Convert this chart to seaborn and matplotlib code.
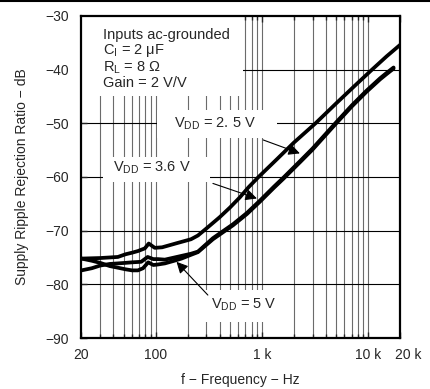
import numpy as np
import pandas as pd
import matplotlib
matplotlib.use("Agg")
import matplotlib.pyplot as plt
import matplotlib.transforms as mtransforms
from matplotlib.lines import Line2D
from matplotlib.patches import Rectangle
from matplotlib.ticker import NullFormatter
import seaborn as sns

# ------------------------------------------------------------------
# DATOS
# ------------------------------------------------------------------
freq_25 = [20, 30, 44, 52, 60, 68, 79, 86, 98, 115, 160, 215, 250, 300, 400,
           500, 620, 750, 930, 1400, 2000, 3200, 5000, 7500, 10900, 15000, 20000]
srr_25 = [-75.2, -75.1, -74.9, -74.4, -74.1, -73.8, -73.3, -72.4, -73.2, -73.1,
          -72.3, -71.6, -70.9, -69.6, -67.5, -65.7, -63.8, -61.9, -60.0, -56.6,
          -53.6, -50.0, -46.3, -43.0, -40.0, -37.5, -35.4]

freq_36 = [20, 25, 30, 37, 44, 52, 60, 73, 84, 95, 105, 122, 150, 175, 215, 250,
           346, 430, 535, 723, 959, 1300, 1600, 2300, 3000, 4860, 7000, 9700,
           13000, 15000, 17400]
srr_36 = [-77.4, -77.0, -76.5, -76.2, -76.1, -76.0, -75.9, -75.8, -74.9, -75.3,
          -75.3, -75.4, -75.0, -74.7, -74.3, -73.9, -71.4, -70.1, -68.8, -66.7,
          -64.4, -61.8, -60.1, -57.0, -54.7, -50.1, -46.7, -43.9, -41.6, -40.6,
          -39.6]

freq_5 = [20, 25, 30, 37, 44, 52, 60, 68, 76, 85, 95, 105, 122, 150, 175, 215,
          250, 346, 430, 535, 723, 959, 1300, 1600, 2300, 3000, 4860, 7000, 9700,
          13000, 15000, 17400]
srr_5 = [-75.2, -75.6, -76.0, -76.6, -76.9, -77.2, -77.4, -77.4, -77.0, -75.9,
         -76.4, -76.3, -76.1, -75.6, -75.2, -74.5, -74.0, -71.6, -70.3, -69.0,
         -66.9, -64.6, -62.0, -60.3, -57.2, -54.9, -50.3, -46.9, -44.1, -41.8,
         -40.8, -39.8]

x_ticks = [20, 100, 1000, 10000, 20000]
x_labels = ['20', '100', '1 k', '10 k', '20 k']
y_ticks = [-90, -80, -70, -60, -50, -40, -30]

df = pd.concat([
    pd.DataFrame({'freq': freq_25, 'srr': srr_25, 'vdd': '2.5 V'}),
    pd.DataFrame({'freq': freq_36, 'srr': srr_36, 'vdd': '3.6 V'}),
    pd.DataFrame({'freq': freq_5, 'srr': srr_5, 'vdd': '5 V'}),
])

# ------------------------------------------------------------------
# ESTILO
# ------------------------------------------------------------------
sns.set_style('ticks')
plt.rcParams['font.family'] = ['Liberation Sans', 'DejaVu Sans']
plt.rcParams['mathtext.default'] = 'regular'
plt.rcParams['font.size'] = 10

fig = plt.figure(figsize=(4.3, 3.89), dpi=100)
ax = fig.add_axes([0.1895, 0.1311, 0.7407, 0.8278])

sns.lineplot(data=df, x='freq', y='srr', units='vdd', estimator=None,
             color='black', lw=2.7, legend=False, ax=ax, zorder=3)

ax.set_xscale('log')
ax.set_xlim(20, 20000)
ax.set_ylim(-90, -30)

# rejilla manual (queda por debajo de los recuadros blancos)
for dec in [10, 100, 1000]:
    for m in range(2, 10):
        f = dec * m
        if 20 < f < 20000:
            ax.axvline(f, color='#6b6b6b', lw=0.8, zorder=0.5)
for f in [100, 1000, 10000]:
    ax.axvline(f, color='#6b6b6b', lw=0.8, zorder=0.5)
for v in y_ticks[1:-1]:
    ax.axhline(v, color='black', lw=0.8, zorder=0.5)

# recuadros blancos detrás de los textos
boxes = [(0.0, 0.752, 0.507, 0.248),
         (0.237, 0.621, 0.377, 0.087),
         (0.0675, 0.484, 0.3355, 0.078),
         (0.372, 0.05, 0.283, 0.099)]
for x0, y0, w, h in boxes:
    ax.add_patch(Rectangle((x0, y0), w, h, transform=ax.transAxes,
                           facecolor='white', edgecolor='none', zorder=1))

ax.text(0.0675, 0.962, 'Inputs ac-grounded\nC$_I$ = 2 μF\nR$_L$ = 8 Ω\nGain = 2 V/V',
        transform=ax.transAxes, ha='left', va='top', fontsize=10.5,
        linespacing=1.0, zorder=4)

ax.text(0.419, 0.665, 'V$_{DD}$ = 2. 5 V', transform=ax.transAxes,
        ha='center', va='center', fontsize=10.5, zorder=4)
ax.text(0.221, 0.528, 'V$_{DD}$ = 3.6 V', transform=ax.transAxes,
        ha='center', va='center', fontsize=10.5, zorder=4)
ax.text(0.51, 0.1025, 'V$_{DD}$ = 5 V', transform=ax.transAxes,
        ha='center', va='center', fontsize=10.5, zorder=4)

arrow = dict(arrowstyle='-|>', color='black', lw=0.8, mutation_scale=17,
             shrinkA=0, shrinkB=0)
ax.annotate('', xy=(2280, -55.6), xytext=(1030, -53.1), arrowprops=arrow, zorder=4)
ax.annotate('', xy=(898, -64.0), xytext=(346, -61.2), arrowprops=arrow, zorder=4)
ax.annotate('', xy=(157, -75.8), xytext=(310, -82.0), arrowprops=arrow, zorder=4)

ax.set_xticks(x_ticks)
ax.set_xticklabels(x_labels)
ax.xaxis.set_minor_formatter(NullFormatter())
ax.set_yticks(y_ticks)
ax.tick_params(which='both', direction='in', top=True, length=4, width=1)
ax.tick_params(axis='x', which='minor', length=3)
ax.tick_params(axis='x', pad=7, labelsize=10)
ax.tick_params(axis='y', pad=9, labelsize=10)

# "20 k" algo desplazado a la derecha como en el original
lab = ax.get_xticklabels()[-1]
lab.set_transform(lab.get_transform() +
                  mtransforms.ScaledTranslation(6 / 72, 0, fig.dpi_scale_trans))

for sp in ax.spines.values():
    sp.set_linewidth(1.6)
    sp.set_color('black')

ax.set_xlabel('f − Frequency − Hz', fontsize=10, labelpad=8)
ax.set_ylabel('Supply Ripple Rejection Ratio − dB', fontsize=10, labelpad=12)

fig.add_artist(Line2D([0, 1], [0.998, 0.998], transform=fig.transFigure,
                      color='black', lw=1.5))

fig.savefig('out.png', dpi=100)
